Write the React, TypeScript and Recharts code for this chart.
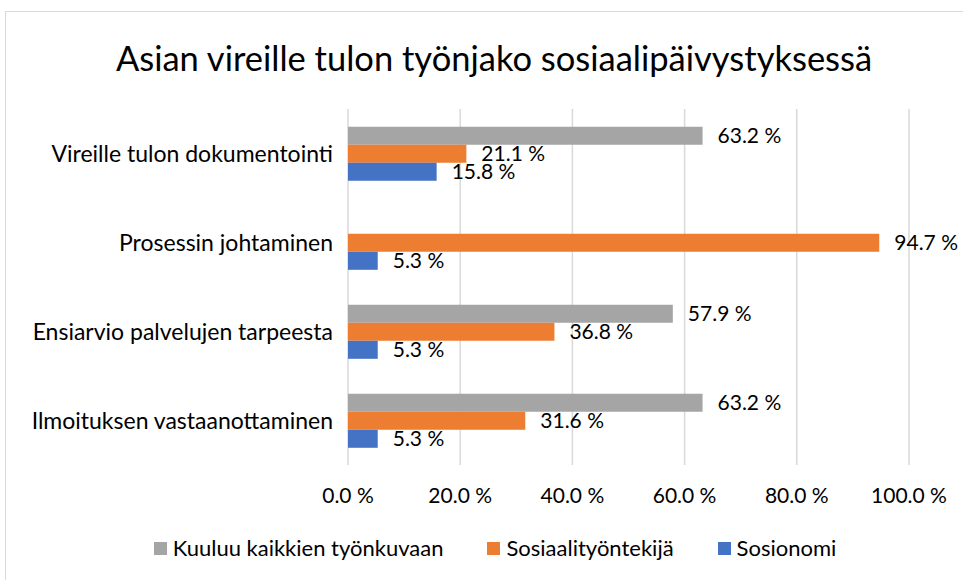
import React from "react";
import { BarChart, Bar, XAxis, YAxis, CartesianGrid, LabelList } from "recharts";

const categories = [
  "Vireille tulon dokumentointi",
  "Prosessin johtaminen",
  "Ensiarvio palvelujen tarpeesta",
  "Ilmoituksen vastaanottaminen",
];
const kaikki = [63.2, null, 57.9, 63.2];
const sosiaalityontekija = [21.1, 94.7, 36.8, 31.6];
const sosionomi = [15.8, 5.3, 5.3, 5.3];
const xTicks = [0, 20, 40, 60, 80, 100];

const seriesNames = ["Kuuluu kaikkien työnkuvaan", "Sosiaalityöntekijä", "Sosionomi"];
const colors = ["#A5A5A5", "#ED7D31", "#4472C4"];

const data = categories.map((name, i) => ({
  name,
  kaikki: kaikki[i],
  sosiaali: sosiaalityontekija[i],
  sosionomi: sosionomi[i],
}));

const FONT = "Lato, 'Noto Sans', sans-serif";
const fmt = (v: any) => (v === null || v === undefined ? "" : `${Number(v).toFixed(1)} %`);
const labelStyle = { fill: "#000", fontSize: 21, fontFamily: FONT };

export default function App() {
  return (
    <div style={{ position: "fixed", left: 0, top: 0, width: 963, height: 580, overflow: "hidden", background: "#fff", fontFamily: FONT }}>
      <div style={{ position: "absolute", left: 5, top: 11, width: 1000, height: 700, border: "1px solid #D9D9D9", boxSizing: "border-box" }} />
      <div style={{ position: "absolute", left: 0, top: 34, width: 988, textAlign: "center", fontSize: 34.5, color: "#000", lineHeight: "48px" }}>
        Asian vireille tulon työnjako sosiaalipäivystyksessä
      </div>
      <div style={{ position: "absolute", left: 0, top: 0 }}>
        <BarChart
          width={963}
          height={580}
          data={data}
          layout="vertical"
          margin={{ top: 109, right: 54, bottom: 75, left: 8 }}
          barCategoryGap="20%"
          barGap={0}
        >
          <CartesianGrid horizontal={false} stroke="#D9D9D9" strokeWidth={1.5} />
          <XAxis
            type="number"
            domain={[0, 100]}
            ticks={xTicks}
            tickFormatter={(v) => `${Number(v).toFixed(1)} %`}
            axisLine={false}
            tickLine={false}
            tickSize={0}
            tickMargin={23}
            height={40}
            tick={{ fill: "#000", fontSize: 21, fontFamily: FONT }}
            interval={0}
          />
          <YAxis
            type="category"
            dataKey="name"
            width={340}
            axisLine={false}
            tickLine={false}
            tickSize={0}
            tickMargin={15}
            tick={{ fill: "#000", fontSize: 23, fontFamily: FONT }}
            interval={0}
          />
          <Bar dataKey="kaikki" fill={colors[0]} isAnimationActive={false}>
            <LabelList dataKey="kaikki" position="right" offset={15} formatter={fmt} style={labelStyle} />
          </Bar>
          <Bar dataKey="sosiaali" fill={colors[1]} isAnimationActive={false}>
            <LabelList dataKey="sosiaali" position="right" offset={15} formatter={fmt} style={labelStyle} />
          </Bar>
          <Bar dataKey="sosionomi" fill={colors[2]} isAnimationActive={false}>
            <LabelList dataKey="sosionomi" position="right" offset={15} formatter={fmt} style={labelStyle} />
          </Bar>
        </BarChart>
      </div>
      <div style={{ position: "absolute", left: 0, top: 535, width: 990, display: "flex", justifyContent: "center", alignItems: "center", fontSize: 22, color: "#000", lineHeight: "26px" }}>
        {seriesNames.map((n, i) => (
          <div key={n} style={{ display: "flex", alignItems: "center", marginRight: i < 2 ? 44 : 0 }}>
            <span style={{ display: "inline-block", width: 13, height: 13, background: colors[i], marginRight: 6 }} />
            <span>{n}</span>
          </div>
        ))}
      </div>
    </div>
  );
}
